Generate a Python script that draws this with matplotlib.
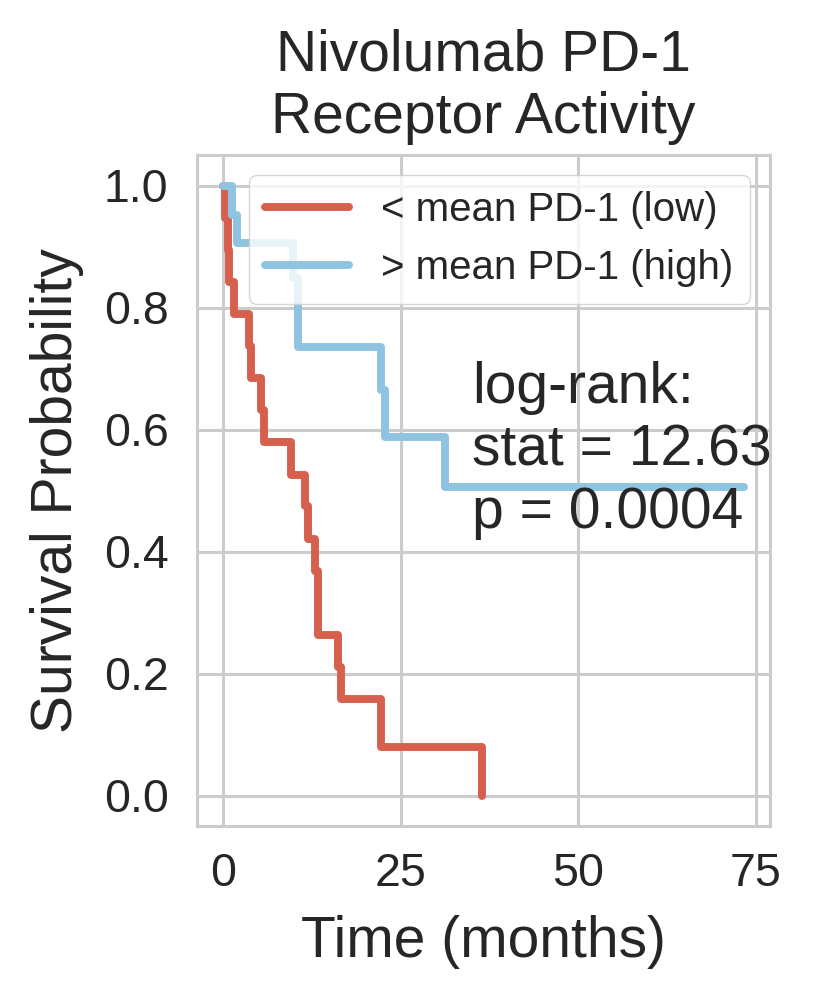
import matplotlib
matplotlib.use("Agg")
import matplotlib.pyplot as plt
import seaborn as sns

# Kaplan-Meier step data
low_time = [0.0, 0.3, 0.7, 0.9, 1.5, 3.6, 3.9, 5.4, 5.7, 9.5, 11.6, 12.0, 13.0, 13.3, 16.2, 16.6, 22.3, 36.4]
low_surv = [1.0, 0.947, 0.895, 0.842, 0.789, 0.737, 0.684, 0.632, 0.579, 0.526, 0.474, 0.421, 0.368, 0.263, 0.211, 0.158, 0.079, 0.0]

high_time = [0.0, 1.3, 1.9, 9.9, 10.6, 22.3, 22.8, 31.3, 73.3]
high_surv = [1.0, 0.952, 0.905, 0.849, 0.735, 0.665, 0.588, 0.505, 0.505]

labels = ["< mean PD-1 (low)", "> mean PD-1 (high)"]
colors = ["#d6604d", "#8fc4e1"]
title = "Nivolumab PD-1\nReceptor Activity"
stat_text = "log-rank:\nstat = 12.63\np = 0.0004"
xticks = [0, 25, 50, 75]
yticks = [0.0, 0.2, 0.4, 0.6, 0.8, 1.0]

sns.set_style("whitegrid")
plt.rcParams['font.family'] = ['Liberation Sans', 'DejaVu Sans']

fig = plt.figure(figsize=(8.15, 10), dpi=100)
ax = fig.add_axes([0.2417, 0.174, 0.703, 0.671])

ax.plot(low_time, low_surv, drawstyle="steps-post", color=colors[0], lw=5.7,
        solid_capstyle="round", solid_joinstyle="round", label=labels[0])
ax.plot(high_time, high_surv, drawstyle="steps-post", color=colors[1], lw=5.7,
        solid_capstyle="round", solid_joinstyle="round", label=labels[1])

ax.set_xticks(xticks)
ax.set_yticks(yticks)
ax.set_yticklabels([f"{v:.1f}" for v in yticks])
ax.tick_params(axis="both", labelsize=33.5, colors="#262626")
ax.tick_params(axis="x", pad=15)
ax.tick_params(axis="y", pad=17)
ax.grid(True, color="#cccccc", lw=2.2)
for s in ax.spines.values():
    s.set_color("#cccccc")
    s.set_linewidth(2.2)

ax.set_xlabel("Time (months)", fontsize=41, color="#262626", labelpad=14)
ax.set_ylabel("Survival Probability", fontsize=41, color="#262626", labelpad=14)
ax.set_title(title, fontsize=41, color="#262626", pad=16)

leg = ax.legend(loc="upper right", fontsize=29, handlelength=2.1, framealpha=0.8,
                borderaxespad=0.5)
for line in leg.get_lines():
    line.set_linewidth(5.7)
    line.set_solid_capstyle("round")

ax.text(35, 0.712, stat_text, fontsize=41, color="#262626", va="top", ha="left")

fig.savefig("out.png", dpi=100)
